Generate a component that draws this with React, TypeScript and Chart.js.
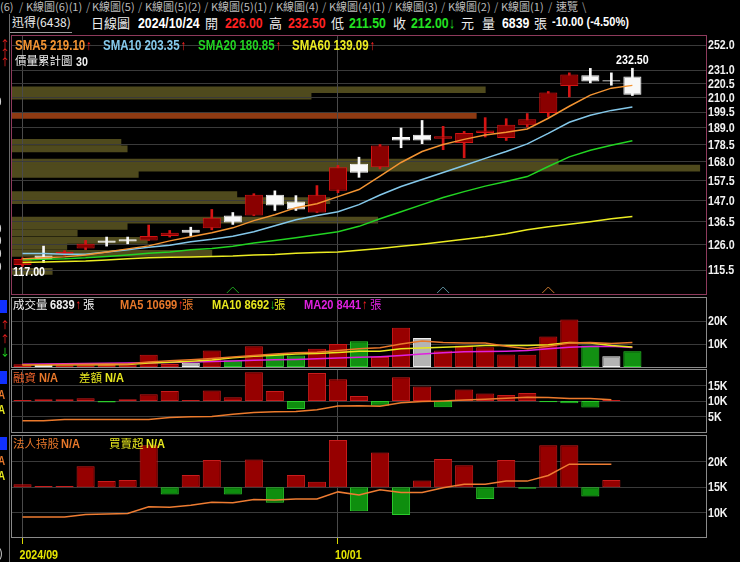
import React, { useEffect, useRef } from "react";
import { Chart, registerables } from "chart.js";

Chart.register(...registerables);

// ---------------- DATA ----------------
const dates = ["2024/09/09","2024/09/10","2024/09/11","2024/09/12","2024/09/13","2024/09/16","2024/09/18","2024/09/19","2024/09/20","2024/09/23","2024/09/24","2024/09/25","2024/09/26","2024/09/27","2024/09/30","2024/10/01","2024/10/04","2024/10/07","2024/10/08","2024/10/09","2024/10/11","2024/10/14","2024/10/15","2024/10/16","2024/10/17","2024/10/18","2024/10/21","2024/10/22","2024/10/23","2024/10/24"];

const openP  = [117.5,121.5,122.0,124.5,128.0,128.5,128.0,130.0,132.8,133.5,139.5,139.5,150.0,146.5,141.0,152.0,167.0,165.0,183.2,184.7,182.1,179.4,185.7,182.5,190.8,199.1,218.7,227.0,223.0,226.0];
const highP  = [120.5,125.5,123.5,128.0,129.5,129.5,135.0,132.5,134.0,142.5,141.0,150.5,152.0,149.5,154.8,166.0,170.8,178.5,189.0,194.0,190.1,186.8,195.9,195.2,198.7,214.5,228.8,232.4,228.8,232.5];
const lowP   = [117.0,118.5,121.5,124.0,125.5,126.5,128.0,129.5,130.0,132.8,135.3,139.5,142.0,142.0,141.0,151.0,159.3,164.0,176.5,179.0,175.3,170.5,183.2,181.0,189.6,196.3,210.5,221.0,219.2,211.5];
const closeP = [120.0,120.0,123.0,126.5,127.0,127.5,130.0,131.5,131.5,138.5,136.2,150.0,144.5,142.5,150.0,165.0,161.8,177.9,181.0,181.0,183.6,185.7,187.4,191.2,194.8,213.7,227.6,222.0,222.0,212.0];

const sma5  = [120.1,120.5,120.9,121.7,123.0,124.3,125.6,127.8,129.6,131.4,133.7,137.1,139.9,143.4,145.4,149.0,152.7,160.0,167.7,174.2,178.5,181.7,184.5,186.2,188.4,195.5,203.8,211.8,217.0,219.1];
const sma10 = [122.3,122.3,122.0,122.0,123.0,123.9,125.0,125.9,127.4,128.5,129.9,131.9,134.7,137.5,139.5,141.4,144.9,149.8,154.3,158.1,162.0,166.0,170.1,174.2,178.9,185.5,192.8,197.5,200.9,203.35];
const sma20 = [119.6,119.9,120.1,120.5,121.1,121.7,122.4,123.0,123.9,124.5,125.4,126.9,128.0,129.2,130.5,131.9,134.4,138.0,141.4,144.9,148.5,151.6,154.5,157.0,159.7,165.4,171.0,175.0,178.0,180.85];
const sma60 = [118.6,118.8,119.0,119.2,119.6,120.1,120.5,120.7,120.9,121.1,121.3,121.7,121.9,122.4,122.8,123.0,123.7,124.5,125.4,126.3,127.4,128.5,129.6,131.0,132.8,134.2,135.4,136.6,138.0,139.09];

const priceTicks = [115.5,126.0,136.5,147.0,157.5,168.0,178.5,189.0,199.5,210.0,220.5,231.0,252.0];

// 價量累計圖 (price levels / relative accumulated volume, % of panel width)
const profilePrice = [215.8,211.0,197.5,179.8,175.8,168.0,164.5,160.9,150.0,146.9,137.3,134.4,131.2,128.0,125.4,122.4,115.0];
const profileVol   = [68.2,43.1,66.9,15.7,16.6,78.7,99.1,18.2,32.4,45.8,52.7,16.6,9.4,19.5,7.9,28.8,5.8];
const profileHotPrice = 197.5;

// signal markers (index into dates)
const signalIdx  = [10, 20, 25];
const signalKind = ["buy", "hold", "sell"];

// 成交量 (張)
const volume = [1200,900,800,1600,900,1000,5300,1300,1800,7200,2900,9000,5600,5000,7900,10000,11200,4300,17100,12600,7200,9300,8600,5400,5300,13300,20700,9300,4700,6839];
const volMA5  = [1000,1000,1100,1200,1300,1300,2200,2700,3200,3700,4300,5000,5700,6200,6400,7200,7900,8400,10000,11300,10700,10400,10400,9000,7900,9000,10400,10600,10200,10699];
const volMA10 = [1000,1000,1000,1000,1000,1100,1700,2100,2500,3000,4000,4700,5100,5600,5900,6300,6800,6900,7900,8300,8600,8900,9300,9300,9300,9700,10600,10400,9400,8692];
const volMA20 = [1200,1300,1400,1500,1600,1700,1900,2000,2200,2400,2600,2900,3100,3300,3600,3900,4200,4500,5000,5600,6200,6600,6700,6900,7200,7900,8600,8900,9000,8441];

// 融資 (差額 bars, balance line)
const marginDiff = [300,600,600,900,-500,600,2200,3200,300,3400,1200,9300,3200,-2600,9000,7000,1600,-1500,7700,4700,-2000,3700,2400,1900,2600,-400,-700,-2100,300,null];
const marginBal  = [3600,3600,4000,4000,4000,4000,4000,4700,4900,5000,5700,6300,6500,6600,7200,8400,8500,8300,9400,9800,10000,10300,10600,10900,11200,11100,10800,10800,10400,null];

// 法人持股 (買賣超 bars, holding line)
const instDiff = [600,250,250,4100,1200,1400,8200,-1400,2400,5300,-1400,5400,-3000,2400,1100,9200,-4700,6800,-5400,1300,5500,4300,-2300,5300,-300,8200,8200,-1800,1400,null];
const instHold = [9200,9200,9200,9700,9800,9900,11200,11100,11500,12100,12000,12600,12500,12700,12700,14100,13500,14500,14000,14000,14900,15600,15600,16200,16200,17300,19500,19500,19500,null];

// ---------------- STYLE ----------------
const NUM_FONT = '"Liberation Sans", Arial, sans-serif';
const CJK_FONT = '"Noto Sans CJK TC","Noto Sans CJK SC",sans-serif';
const NARROW = 0.82;
const GRID = "#3a3a3a";
const VGRID = "#4a4a4a";
const RED_BODY = "#8a0000";
const RED_LINE = "#d41414";
const WHITE = "#f8f8f8";
const AXIS_W = 34;
const PRICE_MIN = 106.3;
const PRICE_MAX = 260.0;

const slotLabels = [...dates, "+1", "+2", "+3"];
const monthTicks = dates.map((d, i) =>
  i === 0 ? d.slice(0, 7) : d.slice(5, 7) !== dates[i - 1].slice(5, 7) ? d.slice(5) : ""
);

const trans = "rgba(0,0,0,0)";

function condText(ctx: any, text: string, x: number, y: number, align: string) {
  ctx.save();
  ctx.translate(x, y);
  ctx.scale(NARROW, 1);
  ctx.textAlign = align;
  ctx.fillText(text, 0, 0);
  ctx.restore();
}

function xAxis(showTicks: boolean): any {
  return {
    type: "category",
    labels: slotLabels,
    offset: true,
    grid: {
      offset: false,
      drawTicks: showTicks,
      tickLength: 7,
      color: (c: any) => (monthTicks[c.index] ? VGRID : trans),
      tickColor: (c: any) => (monthTicks[c.index] ? "#d8d800" : trans),
    },
    border: { display: false },
    ticks: { display: false, autoSkip: false, maxRotation: 0 },
    afterFit: (s: any) => {
      s.height = showTicks ? 25 : 0;
    },
  };
}

function yAxis(min: number, max: number, ticks: number[], type = "linear"): any {
  return {
    type,
    position: "right",
    min,
    max,
    afterBuildTicks: (s: any) => {
      s.ticks = ticks.map((v) => ({ value: v }));
    },
    grid: { color: GRID, drawTicks: false },
    border: { display: false },
    ticks: { display: false, autoSkip: false },
    afterFit: (s: any) => {
      s.width = AXIS_W;
    },
  };
}

// frame + right axis labels (+ optional date labels), drawn from the chart's own scales
function panelPlugin(frameColor: string, fmt: (v: number) => string, dateLabels = false): any {
  return {
    id: "panel",
    afterDraw(chart: any) {
      const { ctx, chartArea: a } = chart;
      ctx.save();
      ctx.strokeStyle = frameColor;
      ctx.lineWidth = 1;
      ctx.strokeRect(a.left - 0.5, a.top - 0.5, a.right - a.left + 1, a.bottom - a.top + 1);
      const ys = chart.scales.y;
      ctx.fillStyle = "#f2f2f2";
      ctx.font = `bold 13px ${NUM_FONT}`;
      ctx.textBaseline = "middle";
      ys.ticks.forEach((t: any) => {
        condText(ctx, fmt(t.value), a.right + 2, ys.getPixelForValue(t.value) + 0.5, "left");
      });
      if (dateLabels) {
        const xs = chart.scales.x;
        ctx.fillStyle = "#e6e600";
        monthTicks.forEach((m, i) => {
          if (m) condText(ctx, m, xs.getPixelForValue(i) - 3, a.bottom + 18, "left");
        });
      }
      ctx.restore();
    },
  };
}

const baseOpts = (padding: any) => ({
  responsive: false,
  animation: false as const,
  events: [] as any[],
  layout: { padding },
  plugins: { legend: { display: false }, tooltip: { enabled: false } },
});

const kLabel = (v: number) => `${Math.round(v / 1000)}K`;

function lineDs(data: any[], color: string, order: number, yAxisID = "y", width = 1.5): any {
  return {
    type: "line",
    data,
    borderColor: color,
    borderWidth: width,
    pointRadius: 0,
    tension: 0,
    fill: false,
    order,
    yAxisID,
  };
}

const up = (i: number) => closeP[i] >= openP[i];
const volDir = (i: number) =>
  i === 0 ? (up(0) ? 1 : -1) : closeP[i] > closeP[i - 1] ? 1 : closeP[i] < closeP[i - 1] ? -1 : 0;

// ---------------- CHART CONFIGS ----------------
function profileConfig(): any {
  return {
    type: "bar",
    data: {
      datasets: [
        {
          data: profilePrice.map((p, i) => ({ x: profileVol[i], y: p })),
          backgroundColor: profilePrice.map((p) => (p === profileHotPrice ? "#8e3a12" : "#4f4a1d")),
          borderWidth: 0,
          barThickness: 6,
          grouped: false,
        },
      ],
    },
    options: {
      ...baseOpts({ left: 12, right: AXIS_W, top: 3, bottom: 2 }),
      indexAxis: "y",
      scales: {
        y: { type: "logarithmic", min: PRICE_MIN, max: PRICE_MAX, display: false },
        x: { type: "linear", min: 0, max: 100, display: false },
      },
    },
  };
}

function priceConfig(): any {
  const labelsPlugin = {
    id: "hiLo",
    afterDatasetsDraw(chart: any) {
      const { ctx } = chart;
      const xs = chart.scales.x;
      const ys = chart.scales.y;
      let hi = 0;
      let lo = 0;
      highP.forEach((v, i) => {
        if (v >= highP[hi]) hi = i;
      });
      lowP.forEach((v, i) => {
        if (v < lowP[lo]) lo = i;
      });
      ctx.save();
      ctx.fillStyle = "#ffffff";
      ctx.font = `bold 13px ${NUM_FONT}`;
      ctx.textBaseline = "bottom";
      condText(ctx, highP[hi].toFixed(2), xs.getPixelForValue(hi), ys.getPixelForValue(highP[hi]) - 1, "center");
      ctx.textBaseline = "top";
      condText(ctx, lowP[lo].toFixed(2), chart.chartArea.left + 1, ys.getPixelForValue(lowP[lo]), "left");
      const b = chart.chartArea.bottom;
      signalIdx.forEach((idx, k) => {
        const x = xs.getPixelForValue(idx);
        ctx.strokeStyle = signalKind[k] === "buy" ? "#1fa01f" : signalKind[k] === "sell" ? "#c8782e" : "#5c8c9a";
        ctx.lineWidth = 1;
        ctx.beginPath();
        ctx.moveTo(x - 6, b - 1);
        ctx.lineTo(x, b - 7);
        ctx.lineTo(x + 6, b - 1);
        ctx.stroke();
      });
      ctx.restore();
    },
  };
  return {
    type: "bar",
    data: {
      labels: slotLabels,
      datasets: [
        lineDs(sma5, "#f39432", 0),
        lineDs(sma10, "#84c8ea", 1),
        lineDs(sma20, "#22d422", 2),
        lineDs(sma60, "#ecec22", 3),
        {
          type: "bar",
          data: openP.map((o, i) => [o, closeP[i]]),
          backgroundColor: openP.map((_o, i) => (up(i) ? RED_BODY : WHITE)),
          borderColor: openP.map((_o, i) => (up(i) ? RED_LINE : WHITE)),
          borderWidth: 1,
          borderSkipped: false,
          barPercentage: 0.86,
          categoryPercentage: 1,
          grouped: false,
          order: 10,
        },
        {
          type: "bar",
          data: lowP.map((l, i) => [l, highP[i]]),
          backgroundColor: lowP.map((_l, i) => (up(i) ? RED_LINE : WHITE)),
          borderWidth: 0,
          barThickness: 2,
          grouped: false,
          order: 11,
        },
      ],
    },
    options: {
      ...baseOpts({ left: 12, right: 0, top: 3, bottom: 2 }),
      scales: {
        x: xAxis(false),
        y: yAxis(PRICE_MIN, PRICE_MAX, priceTicks, "logarithmic"),
      },
    },
    plugins: [panelPlugin("#8e3a5c", (v) => v.toFixed(1)), labelsPlugin],
  };
}

function volumeConfig(): any {
  return {
    type: "bar",
    data: {
      labels: slotLabels,
      datasets: [
        lineDs(volMA5, "#e8782a", 0),
        lineDs(volMA10, "#e8e81e", 1),
        lineDs(volMA20, "#e020e0", 2),
        {
          type: "bar",
          data: volume,
          backgroundColor: volume.map((_v, i) => (volDir(i) > 0 ? "#980000" : volDir(i) < 0 ? "#129012" : "#b4b4b4")),
          borderColor: volume.map((_v, i) => (volDir(i) > 0 ? "#c81818" : volDir(i) < 0 ? "#2ccc2c" : "#f0f0f0")),
          borderWidth: 1,
          borderSkipped: false,
          barPercentage: 0.86,
          categoryPercentage: 1,
          grouped: false,
          order: 10,
        },
      ],
    },
    options: {
      ...baseOpts({ left: 12, right: 0, top: 2, bottom: 2 }),
      scales: {
        x: xAxis(false),
        y: yAxis(0, 30000, [10000, 20000]),
      },
    },
    plugins: [panelPlugin("#8a8a8a", kLabel)],
  };
}

function diffBars(data: any[]): any {
  return {
    type: "bar",
    data,
    yAxisID: "y2",
    backgroundColor: data.map((v) => (v >= 0 ? "#960000" : "#0e8e0e")),
    borderColor: data.map((v) => (v >= 0 ? "#c81c1c" : "#2ccc2c")),
    borderWidth: 1,
    borderSkipped: false,
    barPercentage: 0.86,
    categoryPercentage: 1,
    grouped: false,
    order: 10,
  };
}

function marginConfig(): any {
  return {
    type: "bar",
    data: {
      labels: slotLabels,
      datasets: [lineDs(marginBal, "#ec7a2c", 0), diffBars(marginDiff)],
    },
    options: {
      ...baseOpts({ left: 12, right: 0, top: 2, bottom: 2 }),
      scales: {
        x: xAxis(false),
        y: yAxis(0, 20000, [5000, 10000, 15000]),
        y2: { type: "linear", min: -10000, max: 10000, display: false },
      },
    },
    plugins: [panelPlugin("#8a8a8a", kLabel)],
  };
}

function instConfig(): any {
  return {
    type: "bar",
    data: {
      labels: slotLabels,
      datasets: [lineDs(instHold, "#ee7c32", 0), diffBars(instDiff)],
    },
    options: {
      ...baseOpts({ left: 12, right: 0, top: 3, bottom: 0 }),
      scales: {
        x: xAxis(true),
        y: yAxis(5300, 25000, [10000, 15000, 20000]),
        y2: { type: "linear", min: -9700, max: 10000, display: false },
      },
    },
    plugins: [panelPlugin("#8a8a8a", kLabel, true)],
  };
}

// ---------------- TEXT HELPERS ----------------
type TP = { x: number; y: number; c?: string; s?: number; b?: boolean; f?: string; children: any };
function T({ x, y, c = "#ffffff", s = 13, b = false, f = NUM_FONT, children }: TP) {
  const sx = f === NUM_FONT ? NARROW : 1;
  return (
    <span
      style={{
        position: "absolute",
        left: x,
        top: y - s / 2 - 1,
        color: c,
        fontSize: s,
        lineHeight: `${s + 2}px`,
        fontWeight: b ? 700 : 400,
        fontFamily: f,
        whiteSpace: "nowrap",
        transform: `scaleX(${sx})`,
        transformOrigin: "0 50%",
      }}
    >
      {children}
    </span>
  );
}

const tabs: [string, number][] = [
  ["(6)", 0], ["K線圖(6)(1)", 26], ["K線圖(5)", 92], ["K線圖(5)(2)", 145], ["K線圖(5)(1)", 211],
  ["K線圖(4)", 276], ["K線圖(4)(1)", 329], ["K線圖(3)", 395], ["K線圖(2)", 448], ["K線圖(1)", 501], ["速覽", 556],
];
const tabSeps = [19, 86, 138, 204, 269, 322, 388, 441, 494, 548];

export default function App() {
  const profRef = useRef<HTMLCanvasElement>(null);
  const priceRef = useRef<HTMLCanvasElement>(null);
  const volRef = useRef<HTMLCanvasElement>(null);
  const marRef = useRef<HTMLCanvasElement>(null);
  const instRef = useRef<HTMLCanvasElement>(null);

  useEffect(() => {
    document.body.style.margin = "0";
    document.body.style.background = "#000";
    const charts: Chart[] = [];
    charts.push(new Chart(profRef.current as any, profileConfig()));
    charts.push(new Chart(priceRef.current as any, priceConfig()));
    charts.push(new Chart(volRef.current as any, volumeConfig()));
    charts.push(new Chart(marRef.current as any, marginConfig()));
    charts.push(new Chart(instRef.current as any, instConfig()));
    return () => charts.forEach((c) => c.destroy());
  }, []);

  const cv = (top: number, h: number) => ({
    position: "absolute" as const,
    left: 0,
    top,
    width: 740,
    height: h,
  });

  const arrowUp = <span style={{ color: "#ff2020", marginLeft: 1 }}>↑</span>;
  const arrowDn = <span style={{ color: "#20e020", marginLeft: 1 }}>↓</span>;
  const sq = (top: number) => (
    <div style={{ position: "absolute", left: 0, top, width: 7, height: 13, background: "#1030ff" }} />
  );

  return (
    <div style={{ position: "relative", width: 740, height: 562, background: "#000", overflow: "hidden" }}>
      <canvas ref={profRef} width={740} height={263} style={cv(33, 263)} />
      <canvas ref={priceRef} width={740} height={263} style={cv(33, 263)} />
      <canvas ref={volRef} width={740} height={73} style={cv(296, 73)} />
      <canvas ref={marRef} width={740} height={66} style={cv(368, 66)} />
      <canvas ref={instRef} width={740} height={129} style={cv(433, 129)} />

      {/* tab strip */}
      {tabs.map(([t, x]) => (
        <T key={t} x={x} y={6} c="#bcbcbc" s={11} f={CJK_FONT}>{t}</T>
      ))}
      {tabSeps.map((x) => (
        <T key={x} x={x} y={6} c="#9a9a9a" s={11} f={CJK_FONT}>/</T>
      ))}
      <T x={582} y={6} c="#9a9a9a" s={11} f={CJK_FONT}>\</T>

      {/* left strip (clipped neighbour panel) */}
      <div style={{ position: "absolute", left: 9, top: 14, width: 1, height: 548, background: "#6a6a6a" }} />
      <T x={0} y={44} c="#ff2020" s={10} f={CJK_FONT}>↑</T>
      <T x={0} y={53} c="#ff2020" s={10} f={CJK_FONT}>↑</T>
      <T x={0} y={62} c="#ff2020" s={10} f={CJK_FONT}>↑</T>
      <T x={-4} y={102} c="#d0d0d0" s={12} b>0</T>
      <T x={-4} y={229} c="#d0d0d0" s={12} b>0</T>
      <T x={-4} y={241} c="#d0d0d0" s={12} b>0</T>
      <T x={-4} y={254} c="#d0d0d0" s={12} b>0</T>
      <T x={-4} y={267} c="#d0d0d0" s={12} b>0</T>
      {sq(300)}
      <T x={0} y={325} c="#ff2020" s={10} f={CJK_FONT}>↑</T>
      <T x={0} y={339} c="#ff2020" s={10} f={CJK_FONT}>↑</T>
      <T x={0} y={352} c="#20e020" s={10} f={CJK_FONT}>↓</T>
      {sq(371)}
      <T x={-2} y={395} c="#e8782a" s={12} b>A</T>
      <T x={-2} y={410} c="#e8e81e" s={12} b>A</T>
      {sq(437)}
      <T x={-2} y={461} c="#e8782a" s={12} b>A</T>
      <T x={-2} y={476} c="#e8e81e" s={12} b>A</T>
      <T x={-1} y={552} c="#cfcfcf" s={13}>)</T>

      {/* header */}
      <T x={12} y={22} c="#ececec" s={12} f={CJK_FONT}>迅得(6438)</T>
      <div style={{ position: "absolute", left: 10, top: 32, width: 62, height: 1, background: "#9a9a9a" }} />
      <T x={91} y={22} c="#ececec" s={13} f={CJK_FONT}>日線圖</T>
      <T x={138} y={22} s={15} b>2024/10/24</T>
      <T x={205} y={22} c="#ececec" s={13} f={CJK_FONT}>開</T>
      <T x={225} y={22} c="#ff2222" s={15} b>226.00</T>
      <T x={269} y={22} c="#ececec" s={13} f={CJK_FONT}>高</T>
      <T x={288} y={22} c="#ff2222" s={15} b>232.50</T>
      <T x={331} y={22} c="#ececec" s={13} f={CJK_FONT}>低</T>
      <T x={349} y={22} c="#22e022" s={15} b>211.50</T>
      <T x={393} y={22} c="#ececec" s={13} f={CJK_FONT}>收</T>
      <T x={411} y={22} c="#22e022" s={15} b>212.00</T>
      <T x={449} y={22} c="#22e022" s={15} b>↓</T>
      <T x={461} y={22} c="#ececec" s={13} f={CJK_FONT}>元</T>
      <T x={482} y={22} c="#ececec" s={13} f={CJK_FONT}>量</T>
      <T x={502} y={22} s={15} b>6839</T>
      <T x={534} y={22} c="#ececec" s={13} f={CJK_FONT}>張</T>
      <T x={552} y={22} s={13.5} b>-10.00 (-4.50%)</T>

      {/* price legend */}
      <T x={15} y={45} c="#f39432" s={14} b>SMA5 219.10{arrowUp}</T>
      <T x={103} y={45} c="#84c8ea" s={14} b>SMA10 203.35{arrowUp}</T>
      <T x={198} y={45} c="#22d422" s={14} b>SMA20 180.85{arrowUp}</T>
      <T x={292} y={45} c="#ecec22" s={14} b>SMA60 139.09{arrowUp}</T>
      <T x={15} y={61} c="#f0f0f0" s={11.5} f={CJK_FONT}>價量累計圖</T>
      <T x={76} y={61} c="#f0f0f0" s={13} b>30</T>

      {/* volume legend */}
      <T x={13} y={305} c="#f0f0f0" s={11.5} f={CJK_FONT}>成交量</T>
      <T x={50} y={305} c="#f0f0f0" s={13.5} b>6839{arrowUp}</T>
      <T x={83} y={305} c="#f0f0f0" s={11.5} f={CJK_FONT}>張</T>
      <T x={120} y={305} c="#e8782a" s={13.5} b>MA5 10699{arrowUp}</T>
      <T x={182} y={305} c="#e8782a" s={11.5} f={CJK_FONT}>張</T>
      <T x={212} y={305} c="#e8e81e" s={13.5} b>MA10 8692{arrowDn}</T>
      <T x={274} y={305} c="#e8e81e" s={11.5} f={CJK_FONT}>張</T>
      <T x={304} y={305} c="#e020e0" s={13.5} b>MA20 8441{arrowUp}</T>
      <T x={370} y={305} c="#e020e0" s={11.5} f={CJK_FONT}>張</T>

      {/* margin legend */}
      <T x={13} y={378} c="#e8602a" s={11.5} f={CJK_FONT}>融資</T>
      <T x={39} y={378} c="#e8782a" s={13.5} b>N/A</T>
      <T x={79} y={378} c="#e8e81e" s={11.5} f={CJK_FONT}>差額</T>
      <T x={105} y={378} c="#e8e81e" s={13.5} b>N/A</T>

      {/* institutional legend */}
      <T x={13} y={444} c="#e8782a" s={11.5} f={CJK_FONT}>法人持股</T>
      <T x={61} y={444} c="#e8782a" s={13.5} b>N/A</T>
      <T x={109} y={444} c="#e8e81e" s={11.5} f={CJK_FONT}>買賣超</T>
      <T x={146} y={444} c="#e8e81e" s={13.5} b>N/A</T>
    </div>
  );
}
